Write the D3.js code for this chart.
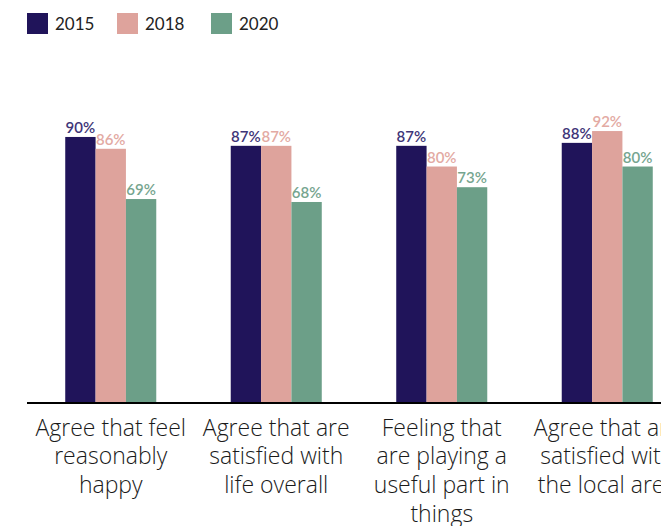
<!DOCTYPE html>
<html>
<head>
<meta charset="utf-8">
<script src="https://cdn.jsdelivr.net/npm/d3@7"></script>
<style>
  body { margin: 0; background: #fff; overflow: hidden; }
  svg { display: block; font-family: Lato, "Open Sans", sans-serif; }
</style>
</head>
<body>
<div id="chart-area"></div>
<script>
let width = 661,
    height = 526;

// data
let categories = [
  ["Agree that feel", "reasonably", "happy"],
  ["Agree that are", "satisfied with", "life overall"],
  ["Feeling that", "are playing a", "useful part in", "things"],
  ["Agree that are", "satisfied with", "the local area"]
];
let years = ["2015", "2018", "2020"];
let values2015 = [90, 87, 87, 88];
let values2018 = [86, 87, 80, 92];
let values2020 = [69, 68, 73, 80];

let barColors = ["#20145a", "#dea39c", "#6c9f88"];
let labelColors = ["#3e3578", "#e3aaa3", "#76a58f"];

let series = [values2015, values2018, values2020];

let svg = d3.select("#chart-area").append("svg")
    .attr("width", width)
    .attr("height", height);

let baseY = 403;

// the chart runs past the right edge, like the original crop
let x0 = d3.scaleBand()
    .domain(d3.range(categories.length))
    .range([28, 28 + 165.5 * categories.length]);

let x1 = d3.scaleBand()
    .domain(d3.range(years.length))
    .range([x0.bandwidth() * 0.225, x0.bandwidth() * 0.775]);

let y = d3.scaleLinear()
    .domain([0, 100])
    .range([baseY, baseY - 295.6]);

// bars
let groups = svg.selectAll(".group")
    .data(categories)
    .enter().append("g")
    .attr("class", "group")
    .attr("transform", function(d, i) { return "translate(" + x0(i) + ",0)"; });

groups.selectAll("rect")
    .data(function(d, i) { return series.map(function(s, j) { return {s: j, v: s[i]}; }); })
    .enter().append("rect")
    .attr("x", function(d) { return x1(d.s); })
    .attr("width", x1.bandwidth())
    .attr("y", function(d) { return y(d.v); })
    .attr("height", function(d) { return baseY - y(d.v); })
    .attr("fill", function(d) { return barColors[d.s]; });

groups.selectAll(".val")
    .data(function(d, i) { return series.map(function(s, j) { return {s: j, v: s[i]}; }); })
    .enter().append("text")
    .attr("class", "val")
    .attr("x", function(d) { return x1(d.s) + x1.bandwidth() / 2; })
    .attr("y", function(d) { return y(d.v) - 4; })
    .attr("text-anchor", "middle")
    .style("font-size", "15px")
    .style("font-weight", "600")
    .attr("fill", function(d) { return labelColors[d.s]; })
    .text(function(d) { return d.v + "%"; });

// axis line
svg.append("line")
    .attr("x1", 27)
    .attr("x2", width)
    .attr("y1", baseY)
    .attr("y2", baseY)
    .style("stroke", "#000")
    .style("stroke-width", 2);

// category labels
groups.append("text")
    .attr("text-anchor", "middle")
    .style("font-family", "'Open Sans', sans-serif")
    .style("font-size", "23px")
    .style("font-weight", "300")
    .attr("fill", "#1a1a1a")
    .selectAll("tspan")
    .data(function(d) { return d; })
    .enter().append("tspan")
    .attr("x", x0.bandwidth() / 2)
    .attr("y", function(d, i) { return 435.5 + i * 28.7; })
    .text(function(d) { return d; });

// legend
let legend = svg.selectAll(".legend")
    .data(years)
    .enter().append("g")
    .attr("class", "legend")
    .attr("transform", function(d, i) { return "translate(" + [27, 117, 211][i] + ",13)"; });

legend.append("rect")
    .attr("width", 21)
    .attr("height", 21)
    .attr("fill", function(d, i) { return barColors[i]; });

legend.append("text")
    .attr("x", 28)
    .attr("y", 16.5)
    .style("font-size", "17px")
    .attr("fill", "#222")
    .text(function(d) { return d; });
</script>
</body>
</html>
